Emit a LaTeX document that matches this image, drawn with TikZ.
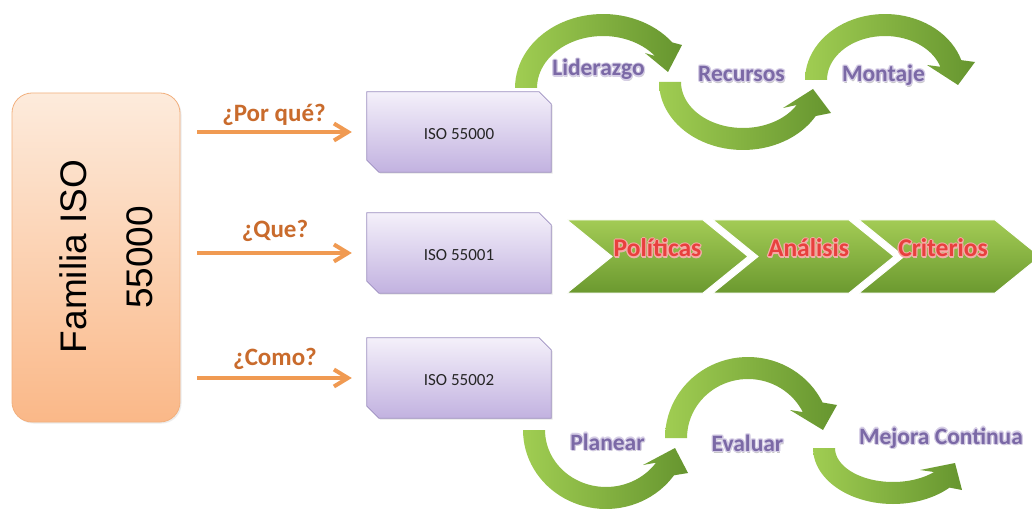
\documentclass[tikz,border=0pt]{standalone}
\usepackage{fontspec}
\setmainfont{Carlito}
\newfontfamily\arialfont{Liberation Sans}
\usetikzlibrary{arrows.meta,shadows}

\definecolor{peachTop}{HTML}{FDEBDC}
\definecolor{peachBot}{HTML}{FAB888}
\definecolor{peachLine}{HTML}{F2B07E}
\definecolor{arrowOr}{HTML}{F09A52}
\definecolor{labelOr}{HTML}{C96B2C}
\definecolor{lilTop}{HTML}{F4F0FA}
\definecolor{lilBot}{HTML}{C2B2E0}
\definecolor{lilLine}{HTML}{9C8EC0}
\definecolor{greenL}{HTML}{A0CD52}
\definecolor{greenD}{HTML}{66952F}
\definecolor{chevTop}{HTML}{A3CB55}
\definecolor{chevBot}{HTML}{6B992F}
\definecolor{stepRed}{HTML}{E8403E}
\definecolor{stepGlow}{HTML}{F6ABA6}
\definecolor{stepPurple}{HTML}{7B69A6}
\definecolor{purpleGlow}{HTML}{D6CEE6}

% one offset copy of a text, taking no width
\newcommand\glowcopy[3]{\makebox[0pt][l]{\hspace*{#1}\raisebox{#2}{#3}}}
% text with a soft halo: #1 halo colour, #2 text colour, #3 text
\newcommand\glowed[3]{{\color{black!22}\glowcopy{0.8pt}{-1.8pt}{#3}}%
  {\color{#1}%
  \glowcopy{1.3pt}{0pt}{#3}\glowcopy{-1.3pt}{0pt}{#3}%
  \glowcopy{0pt}{1.3pt}{#3}\glowcopy{0pt}{-1.3pt}{#3}%
  \glowcopy{0.9pt}{0.9pt}{#3}\glowcopy{-0.9pt}{0.9pt}{#3}%
  \glowcopy{0.9pt}{-0.9pt}{#3}\glowcopy{-0.9pt}{-0.9pt}{#3}}%
  \textcolor{#2}{#3}}

% curved block arrow along an ellipse:
% #1 cx, #2 cy, #3 rx, #4 ry, #5 side (-1 above, 1 below), #6 end angle,
% #7 inner barb, #8 outer barb, #9 tip
\newcommand\bentarrow[9]{%
  \shade[left color=greenL, right color=greenD]
    plot[domain=180:#6, samples=40, variable=\t]
      ({#1+(#3+11)*cos(\t)}, {#2+(#5)*(#4+11)*sin(\t)})
    -- #8 -- #9 -- #7 --
    plot[domain=#6:180, samples=40, variable=\t]
      ({#1+(#3-11)*cos(\t)}, {#2+(#5)*(#4-11)*sin(\t)})
    -- cycle;}

% chevron of the middle row, #1 = left x
\newcommand\chevpath[1]{%
  \shade[top color=chevTop, bottom color=chevBot, draw=white, line width=1pt]
    (#1,220) -- ++(136,0) -- ++(45,36.5) -- ++(-45,36.5) -- ++(-136,0)
    -- ++(45,-36.5) -- cycle;}

\begin{document}
\begin{tikzpicture}[x=1pt,y=-1pt,
  fambox/.style={rectangle, rounded corners=20pt, minimum width=168pt,
    minimum height=329pt, inner sep=0pt, draw=peachLine, line width=0.8pt,
    top color=peachTop, bottom color=peachBot,
    drop shadow={opacity=0.15, shadow xshift=1.5pt, shadow yshift=-1.5pt}},
  famtext/.style={font=\arialfont\fontsize{37}{44}\selectfont, rotate=90,
    inner sep=0pt, anchor=base},
  isoframe/.style={rectangle, minimum width=184pt, minimum height=80pt,
    inner sep=0pt},
  isoshape/.style={draw=lilLine, line width=0.8pt, top color=lilTop,
    bottom color=lilBot,
    drop shadow={opacity=0.2, shadow xshift=1.5pt, shadow yshift=-1.5pt}},
  isolabel/.style={font=\fontsize{17}{20}\selectfont, text=black!85,
    inner sep=0pt},
  orarrow/.style={draw=arrowOr, line width=4pt, shorten <=17pt,
    shorten >=15pt, -{Straight Barb[length=14pt,width=17pt]}},
  orlabel/.style={font=\bfseries\fontsize{25}{30}\selectfont, text=labelOr,
    inner sep=0pt, anchor=base},
  redlabel/.style={font=\bfseries\fontsize{25.5}{30}\selectfont,
    inner sep=0pt, anchor=base},
  purplabel/.style={font=\bfseries\fontsize{23.5}{28}\selectfont,
    inner sep=0pt, anchor=base}]

\useasboundingbox (0,0) rectangle (1032,510);
\fill[white] (0,0) rectangle (1032,510);
\clip (0,0) rectangle (1032,510);

% family box
\node[fambox] (fam) at (96,257.5) {};
\node[famtext] (famA) at (86,256.5) {Familia ISO};
\node[famtext] (famB) at (152,257.5) {55000};

% the three standards
\node[isoframe] (iso1) at (459,132) {};
\node[isoframe] (iso2) at (459,253) {};
\node[isoframe] (iso3) at (459,378) {};
\foreach \b in {iso1,iso2,iso3}{
  \shade[isoshape] (\b.north west) -- ([xshift=-12pt]\b.north east)
    -- ([yshift=-12pt]\b.north east) -- (\b.south east)
    -- ([xshift=12pt]\b.south west) -- ([yshift=12pt]\b.south west) -- cycle;
}
\node[isolabel] (isoT1) at (459,134) {ISO 55000};
\node[isolabel] (isoT2) at (459,255) {ISO 55001};
\node[isolabel] (isoT3) at (459,380) {ISO 55002};

% questions
\draw[orarrow] (fam.east |- iso1.west) -- (iso1.west);
\draw[orarrow] (fam.east |- iso2.west) -- (iso2.west);
\draw[orarrow] (fam.east |- iso3.west) -- (iso3.west);
\node[orlabel] (qWhy) at (274,121.5) {¿Por qué?};
\node[orlabel] (qWhat) at (275,238) {¿Que?};
\node[orlabel] (qHow) at (275,365) {¿Como?};

% top row: curved arrows
\bentarrow{603}{88}{77}{63}{-1}{38}{(645,53)}{(682,45)}{(668,72)}
\bentarrow{743}{82}{73}{57}{1}{30}{(783,108)}{(831,113)}{(813,89)}
\bentarrow{885}{80}{69}{55}{-1}{17.5}{(927,65)}{(975,62)}{(958,85)}
\node[purplabel] (tLid) at (598.5,76) {\glowed{purpleGlow}{stepPurple}{Liderazgo}};
\node[purplabel] (tRec) at (741.5,81.5) {\glowed{purpleGlow}{stepPurple}{Recursos}};
\node[purplabel] (tMon) at (883.5,81.5) {\glowed{purpleGlow}{stepPurple}{Montaje}};

% middle row: chevrons
\chevpath{567}
\chevpath{713}
\chevpath{859}
\node[redlabel] (tPol) at (657.5,257) {\glowed{stepGlow}{stepRed}{Políticas}};
\node[redlabel] (tAna) at (808.5,257) {\glowed{stepGlow}{stepRed}{Análisis}};
\node[redlabel] (tCri) at (943,257) {\glowed{stepGlow}{stepRed}{Criterios}};

% bottom row: curved arrows
\bentarrow{606}{430}{72}{68}{1}{35}{(643,465)}{(688,473)}{(675,448)}
\bentarrow{748}{438}{72}{70}{-1}{26}{(790,410)}{(837,405)}{(823,430)}
\bentarrow{893}{448}{69}{45}{1}{45}{(920,470)}{(962,490)}{(955,463)}
\node[purplabel] (tPla) at (607.5,450) {\glowed{purpleGlow}{stepPurple}{Planear}};
\node[purplabel] (tEva) at (747.5,451.5) {\glowed{purpleGlow}{stepPurple}{Evaluar}};
\node[purplabel] (tMej) at (941,444) {\glowed{purpleGlow}{stepPurple}{Mejora Continua}};
\end{tikzpicture}
\end{document}
